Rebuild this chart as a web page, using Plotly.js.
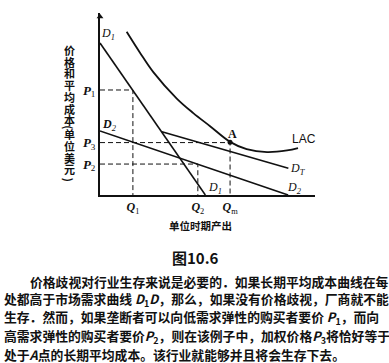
<!DOCTYPE html>
<html><head><meta charset="utf-8">
<script src="https://cdn.plot.ly/plotly-3.0.1.min.js"></script>
<style>html,body{margin:0;padding:0;background:#fff;}</style>
</head><body>
<div id="chart" style="width:389px;height:363px;"></div>
<script>
// ---- Data (quantity and price in abstract units 0-10) ----
const priceTickValues = [5.77, 2.88, 1.7];
const priceTickLabels = ['<i><b>P</b></i><sub>1</sub>', '<i><b>P</b></i><sub>3</sub>', '<i><b>P</b></i><sub>2</sub>'];
const qtyTickValues = [1.53, 4.55, 6.05];
const qtyTickLabels = ['<i><b>Q</b></i><sub>1</sub>', '<i><b>Q</b></i><sub>2</sub>', '<i><b>Q</b></i><sub>m</sub>'];

const d1Q = [0, 4.9];
const d1P = [8.35, 0];
const d2Q = [0, 8.75];
const d2P = [3.52, 0];
const dtQ = [2.88, 8.76];
const dtP = [3.47, 1.47];
const lacQ = [1.24, 1.86, 2.48, 3.57, 4.34, 5.12, 6.05, 6.82, 7.77, 8.70, 9.21];
const lacP = [8.97, 7.82, 6.75, 5.30, 4.50, 3.78, 2.92, 2.52, 2.36, 2.45, 2.58];
const pointAQ = [6.05];
const pointAP = [2.9];

const yTitleChars = ['价','格','和','平','均','成','本','(','单','位','美','元',')'];
const yTitleSlots = [0, 1, 2, 3, 4, 5, 6, 6.6, 7.2, 8.2, 9.2, 10.2, 11.1];
const xTitle = '单位时期产出';
const figCaption = '图10.6';
const paragraphLines = [
  '价格歧视对行业生存来说是必要的．如果长期平均成本曲线在每',
  '处都高于市场需求曲线 <i>D</i><sub>1</sub><i>D</i>，那么，如果没有价格歧视，厂商就不能',
  '生存．然而，如果垄断者可以向低需求弹性的购买者要价 <i>P</i><sub>1</sub>，而向',
  '高需求弹性的购买者要价<i>P</i><sub>2</sub>，则在该例子中，加权价格<i>P</i><sub>3</sub>将恰好等于',
  '处于<i>A</i>点的长期平均成本。该行业就能够并且将会生存下去。'
];

// ---- helpers for placing text in page pixels ----
const L = 100, R = 315, T = 13, B = 195;
const xp = px => (px - L) / (R - L);
const yp = py => (B - py) / (B - T);

const black = '#111';
const serif = 'Liberation Serif, Times New Roman, serif';
const cjk = 'Noto Sans CJK SC, sans-serif';

const traces = [];
const dashStyle = '5px,3px';
function guide(q, p) {
  traces.push({x: [0, q, q], y: [p, p, 0], mode: 'lines', line: {color: black, width: 1, dash: dashStyle}});
}
guide(qtyTickValues[0], priceTickValues[0]);
guide(qtyTickValues[2], priceTickValues[1]);
guide(qtyTickValues[1], priceTickValues[2]);

traces.push({x: d1Q, y: d1P, mode: 'lines', line: {color: black, width: 1.6}});
traces.push({x: d2Q, y: d2P, mode: 'lines', line: {color: black, width: 1.6}});
traces.push({x: dtQ, y: dtP, mode: 'lines', line: {color: black, width: 1.6}});
traces.push({x: lacQ, y: lacP, mode: 'lines', line: {color: black, width: 1.8, shape: 'spline', smoothing: 1}});
traces.push({x: pointAQ, y: pointAP, mode: 'markers', marker: {color: black, size: 5}});
traces.push({x: [0], y: [9.8], mode: 'markers', marker: {symbol: 'triangle-up', color: black, size: 6}, cliponaxis: false});

const ann = [];
function lab(text, px, py, size, opts) {
  ann.push(Object.assign({xref: 'paper', yref: 'paper', x: xp(px), y: yp(py), text: text,
    showarrow: false, xanchor: 'center', yanchor: 'middle',
    font: {family: serif, size: size, color: black, style: 'italic'}}, opts || {}));
}
lab('<i>D</i><sub>1</sub>', 108, 34, 12);
lab('<b><i>D</i></b><sub>2</sub>', 109, 125, 12);
lab('<b>A</b>', 232, 134, 12, {font: {family: serif, size: 12, color: black}});
lab('LAC', 304, 139, 12, {font: {family: 'Liberation Sans, Arial, sans-serif', size: 12, color: black}});
lab('<i>D</i><sub>T</sub>', 298, 169, 12);
lab('<i>D</i><sub>1</sub>', 215, 188, 12);
lab('<i>D</i><sub>2</sub>', 294, 188, 12);

yTitleChars.forEach((c, i) => {
  const isBracket = (c === '(' || c === ')');
  lab(c, 69, 50 + yTitleSlots[i] * 11.7, 11, {textangle: isBracket ? 90 : 0,
    font: {family: cjk, size: 11, color: black, weight: 700}});
});
lab(xTitle, 200, 225, 10.5, {font: {family: cjk, size: 10.5, color: black, weight: 700}});
lab(figCaption, 195, 257, 15, {font: {family: cjk, size: 15, color: black, weight: 700}});
paragraphLines.forEach((t, i) => {
  lab(t, i === 0 ? 28 : 2, 281 + i * 18.4, 12.8, {xanchor: 'left', font: {family: cjk, size: 12.8, color: black, weight: 700}});
});

const layout = {
  width: 389, height: 363,
  margin: {l: L, r: 389 - R, t: T, b: 363 - B, pad: 0},
  paper_bgcolor: '#fff', plot_bgcolor: '#fff',
  showlegend: false, hovermode: false,
  xaxis: {range: [0, 10], showgrid: false, zeroline: false, showline: true, linecolor: black, linewidth: 2,
    tickvals: qtyTickValues, ticktext: qtyTickLabels, ticks: '', ticklabelstandoff: 0,
    tickfont: {family: serif, size: 12, color: black}},
  yaxis: {range: [0, 10], showgrid: false, zeroline: false, showline: true, linecolor: black, linewidth: 2,
    tickvals: priceTickValues, ticktext: priceTickLabels, ticks: '', ticklabelstandoff: 0,
    tickfont: {family: serif, size: 13, color: black}},
  annotations: ann
};
Plotly.newPlot('chart', traces, layout, {staticPlot: true, displayModeBar: false});
</script>
</body></html>
